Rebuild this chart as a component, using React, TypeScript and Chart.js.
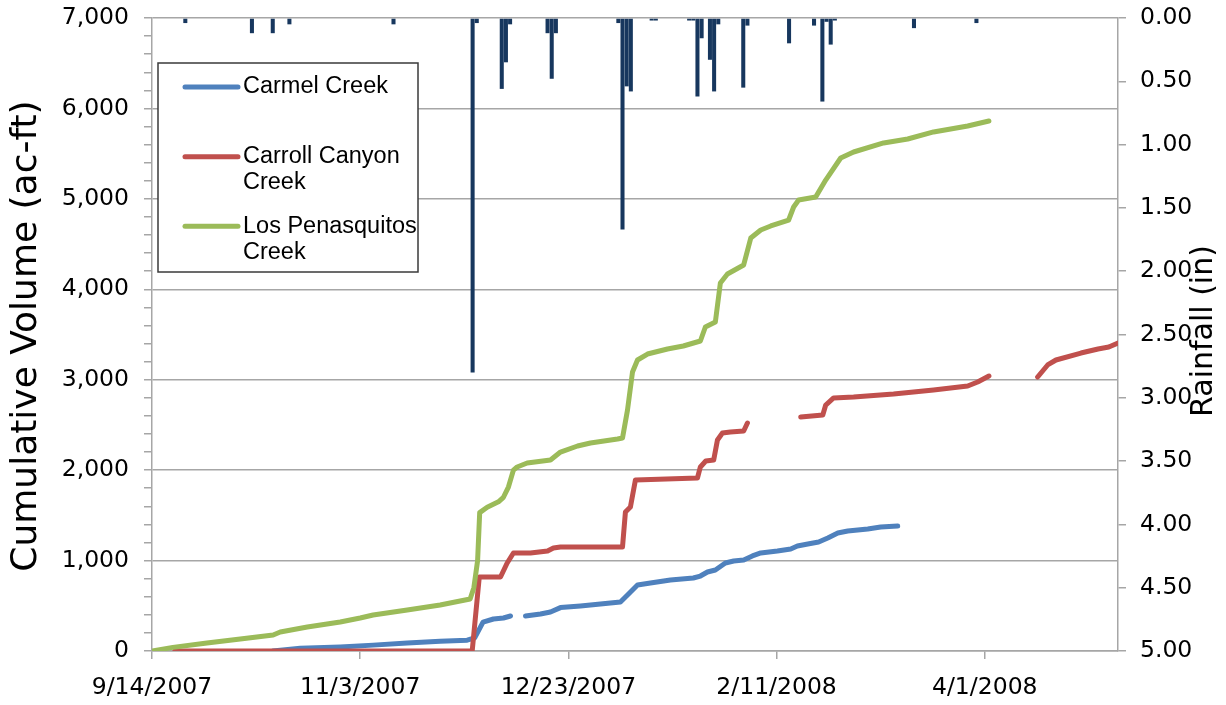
import React, { useEffect, useRef } from 'react';
import { Chart, registerables } from 'chart.js';

Chart.register(...registerables);

// ---------- Data ----------
// x values are days since 9/14/2007
const tickDays = [0, 50, 100, 150, 200];
const tickLabels = ['9/14/2007', '11/3/2007', '12/23/2007', '2/11/2008', '4/1/2008'];
const xMaxDay = 232;

const seriesNames = ['Carmel Creek', 'Carroll Canyon Creek', 'Los Penasquitos Creek'];
const leftTitle = 'Cumulative Volume (ac-ft)';
const rightTitle = 'Rainfall (in)';

const carmelDays = [29, 35.6, 45.2, 53.1, 61.3, 69.2, 75.7, 77.5, 79.5, 82, 84.4, 86.1, 88, 89.7, 93.3, 95.7, 98.1, 102.9, 107.7, 112.5, 114.2, 116.6, 119.7, 124.5, 130, 131.7, 133.4, 135.3, 137.7, 139.7, 142.1, 144.2, 146.2, 150.2, 153.4, 155, 157.5, 160.1, 162.3, 164.7, 167.1, 171.9, 175, 179.1];
const carmelVolume = [0, 30, 45, 65, 88, 108, 120, 145, 320, 354, 365, 387, null, 387, 409, 431, 480, 498, 520, 542, 619, 730, 752, 785, 807, 829, 874, 896, 973, 995, 1006, 1051, 1084, 1106, 1128, 1161, 1183, 1205, 1250, 1305, 1327, 1349, 1371, 1382];

const carrollDays = [5.5, 76.9, 78.6, 83.7, 85.3, 86.8, 90.9, 95, 96.4, 98.1, 113, 113.7, 114.9, 116.1, 131, 131.7, 133, 134.9, 135.8, 137, 138.9, 142.1, 143, 150, 155.8, 161.1, 161.8, 163.7, 168.5, 178.1, 187.7, 195.9, 198.3, 201, 207, 212.7, 215.1, 217.1, 223.1, 227.2, 229.8, 232];
const carrollVolume = [0, 0, 818, 818, 973, 1084, 1084, 1106, 1139, 1150, 1150, 1537, 1593, 1891, 1913, 2035, 2101, 2112, 2333, 2411, 2422, 2433, 2521, null, 2588, 2610, 2720, 2798, 2809, 2842, 2886, 2930, 2975, 3041, null, 3030, 3163, 3218, 3295, 3340, 3362, 3406];

const penasquitosDays = [0, 5, 13.2, 21.2, 29.1, 30.8, 37.3, 45.2, 50, 53.1, 61.3, 69.2, 76.4, 77.3, 78.2, 78.7, 80.5, 83.2, 84.4, 85.6, 86.8, 87.7, 90.1, 95.7, 98.1, 102.2, 105.3, 111.8, 113, 114.2, 115.4, 116.6, 119, 123.8, 127.6, 131.7, 132.9, 135.3, 136.5, 138.2, 142.1, 143.8, 146.2, 148.6, 152.9, 154.1, 155.3, 159.4, 160.1, 161.8, 165.4, 168.5, 175.7, 181.5, 187.7, 195.9, 201];
const penasquitosVolume = [0, 40, 88, 133, 177, 210, 265, 321, 365, 398, 453, 509, 575, 700, 1000, 1530, 1590, 1650, 1700, 1813, 2000, 2035, 2079, 2112, 2200, 2267, 2300, 2344, 2355, 2665, 3085, 3218, 3284, 3340, 3373, 3428, 3583, 3638, 4069, 4169, 4269, 4567, 4656, 4700, 4766, 4910, 4988, 5020, 5076, 5208, 5452, 5518, 5618, 5662, 5740, 5806, 5861];

const rainDays = [8, 24, 29, 33, 58, 77, 78, 84, 85, 86, 95, 96, 97, 112, 113, 114, 115, 120, 121, 129, 130, 131, 132, 134, 135, 136, 142, 143, 153, 159, 161, 162, 163, 164, 183, 198];
const rainInches = [0.04, 0.12, 0.12, 0.05, 0.05, 2.8, 0.04, 0.56, 0.35, 0.05, 0.12, 0.48, 0.12, 0.04, 1.67, 0.54, 0.58, 0.02, 0.02, 0.02, 0.02, 0.62, 0.16, 0.33, 0.58, 0.05, 0.55, 0.06, 0.2, 0.06, 0.66, 0.03, 0.21, 0.02, 0.08, 0.04];

// ---------- Styles ----------
const GRID = '#a6a6a6';
const TICK_FONT = { family: 'DejaVu Sans', size: 23.5 };
const COLORS = { carmel: '#4F81BD', carroll: '#C0504D', penasquitos: '#9BBB59', rain: '#17375E' };

const toXY = (xs: number[], ys: (number | null)[]) => xs.map((x, i) => ({ x, y: ys[i] }));

const titlePlugin = {
  id: 'axisTitles',
  afterDraw(chart: any) {
    const ctx = chart.ctx;
    const draw = (text: string, x: number, y: number, size: number) => {
      ctx.save();
      ctx.fillStyle = '#000';
      ctx.font = `${size}px "DejaVu Sans"`;
      ctx.textAlign = 'center';
      ctx.textBaseline = 'middle';
      ctx.translate(x, y);
      ctx.rotate(-Math.PI / 2);
      ctx.fillText(text, 0, 0);
      ctx.restore();
    };
    draw(leftTitle, 27, 336, 36);
    draw(rightTitle, 1204, 331, 30);
  },
};

const legendPlugin = {
  id: 'boxLegend',
  afterDraw(chart: any) {
    const ctx = chart.ctx;
    const left = 158, top = 63, right = 418, bottom = 272;
    ctx.save();
    ctx.fillStyle = '#fff';
    ctx.fillRect(left, top, right - left, bottom - top);
    ctx.strokeStyle = '#3a3a3a';
    ctx.lineWidth = 1.5;
    ctx.strokeRect(left, top, right - left, bottom - top);
    ctx.font = '23.5px "Liberation Sans"';
    ctx.textBaseline = 'middle';
    ctx.textAlign = 'left';
    const items = [
      { name: seriesNames[0], color: COLORS.carmel },
      { name: seriesNames[1], color: COLORS.carroll },
      { name: seriesNames[2], color: COLORS.penasquitos },
    ];
    const slot = (bottom - top) / items.length;
    const maxW = 180;
    items.forEach((it, i) => {
      const words = it.name.split(' ');
      const lines: string[] = [];
      let cur = '';
      words.forEach((w) => {
        const t = cur ? cur + ' ' + w : w;
        if (ctx.measureText(t).width > maxW && cur) {
          lines.push(cur);
          cur = w;
        } else cur = t;
      });
      if (cur) lines.push(cur);
      const y0 = top + i * slot + 24;
      ctx.strokeStyle = it.color;
      ctx.lineWidth = 5;
      ctx.lineCap = 'round';
      ctx.beginPath();
      ctx.moveTo(185, y0);
      ctx.lineTo(238, y0);
      ctx.stroke();
      ctx.fillStyle = '#000';
      lines.forEach((ln, j) => ctx.fillText(ln, 243, y0 + j * 26));
    });
    ctx.restore();
  },
};

export default function App() {
  const ref = useRef<HTMLCanvasElement>(null);
  useEffect(() => {
    const canvas = ref.current;
    if (!canvas) return;
    const lineStyle = {
      type: 'line' as const,
      borderWidth: 5,
      pointRadius: 0,
      tension: 0,
      spanGaps: false,
      fill: false,
      borderCapStyle: 'round' as const,
      borderJoinStyle: 'round' as const,
      yAxisID: 'y',
      xAxisID: 'x',
    };
    const chart = new Chart(canvas, {
      type: 'line',
      data: {
        datasets: [
          { ...lineStyle, label: seriesNames[2], data: toXY(penasquitosDays, penasquitosVolume), borderColor: COLORS.penasquitos, backgroundColor: COLORS.penasquitos, order: 1 },
          { ...lineStyle, label: seriesNames[1], data: toXY(carrollDays, carrollVolume), borderColor: COLORS.carroll, backgroundColor: COLORS.carroll, order: 2 },
          { ...lineStyle, label: seriesNames[0], data: toXY(carmelDays, carmelVolume), borderColor: COLORS.carmel, backgroundColor: COLORS.carmel, order: 3 },
          {
            type: 'bar',
            label: 'Rainfall',
            data: toXY(rainDays, rainInches),
            backgroundColor: COLORS.rain,
            borderWidth: 0,
            barPercentage: 1,
            categoryPercentage: 0.97,
            yAxisID: 'y2',
            xAxisID: 'x',
            order: 4,
          },
        ] as any,
      },
      options: {
        animation: false,
        responsive: false,
        layout: { padding: { top: 18, left: 0, right: 0, bottom: 0 } },
        plugins: { legend: { display: false }, tooltip: { enabled: false } },
        scales: {
          x: {
            type: 'linear',
            min: 0,
            max: xMaxDay,
            offset: false,
            afterBuildTicks: (s: any) => {
              s.ticks = tickDays.map((v) => ({ value: v }));
            },
            afterFit: (s: any) => {
              s.height = 54;
              s.paddingLeft = 0;
              s.paddingRight = 0;
            },
            grid: { drawOnChartArea: false, color: GRID, tickLength: 8, offset: false, lineWidth: 1.5 },
            border: { color: GRID, width: 1.5 },
            ticks: {
              callback: (v: any) => {
                const i = tickDays.indexOf(Number(v));
                return i >= 0 ? tickLabels[i] : '';
              },
              font: TICK_FONT,
              color: '#000',
              padding: 15,
              maxRotation: 0,
              autoSkip: false,
            },
          },
          y: {
            type: 'linear',
            position: 'left',
            min: 0,
            max: 7000,
            afterFit: (s: any) => {
              s.width = 152;
              s.paddingTop = 0;
              s.paddingBottom = 0;
            },
            grid: {
              color: (c: any) => (c.tick && Math.round(c.tick.value) % 1000 === 0 ? GRID : 'rgba(0,0,0,0)'),
              tickColor: GRID,
              tickLength: 8,
              lineWidth: 1.5,
            },
            border: { color: GRID, width: 1.5 },
            ticks: {
              stepSize: 200,
              autoSkip: false,
              callback: (v: any) => {
                const n = Math.round(Number(v));
                return n % 1000 === 0 ? n.toLocaleString('en-US') : '';
              },
              font: TICK_FONT,
              color: '#000',
              padding: 15,
            },
          },
          y2: {
            type: 'linear',
            position: 'right',
            min: 0,
            max: 5,
            reverse: true,
            afterFit: (s: any) => {
              s.width = 108;
              s.paddingTop = 0;
              s.paddingBottom = 0;
            },
            grid: { drawOnChartArea: false, color: GRID, tickLength: 8, lineWidth: 1.5 },
            border: { color: GRID, width: 1.5 },
            ticks: {
              stepSize: 0.5,
              autoSkip: false,
              callback: (v: any) => Number(v).toFixed(2),
              font: TICK_FONT,
              color: '#000',
              padding: 14,
            },
          },
        },
      } as any,
      plugins: [titlePlugin, legendPlugin],
    });
    return () => chart.destroy();
  }, []);
  return (
    <div style={{ position: 'fixed', left: 0, top: 0, width: 1226, height: 705, background: '#fff' }}>
      <canvas ref={ref} width={1226} height={705} style={{ display: 'block', width: 1226, height: 705 }} />
    </div>
  );
}
